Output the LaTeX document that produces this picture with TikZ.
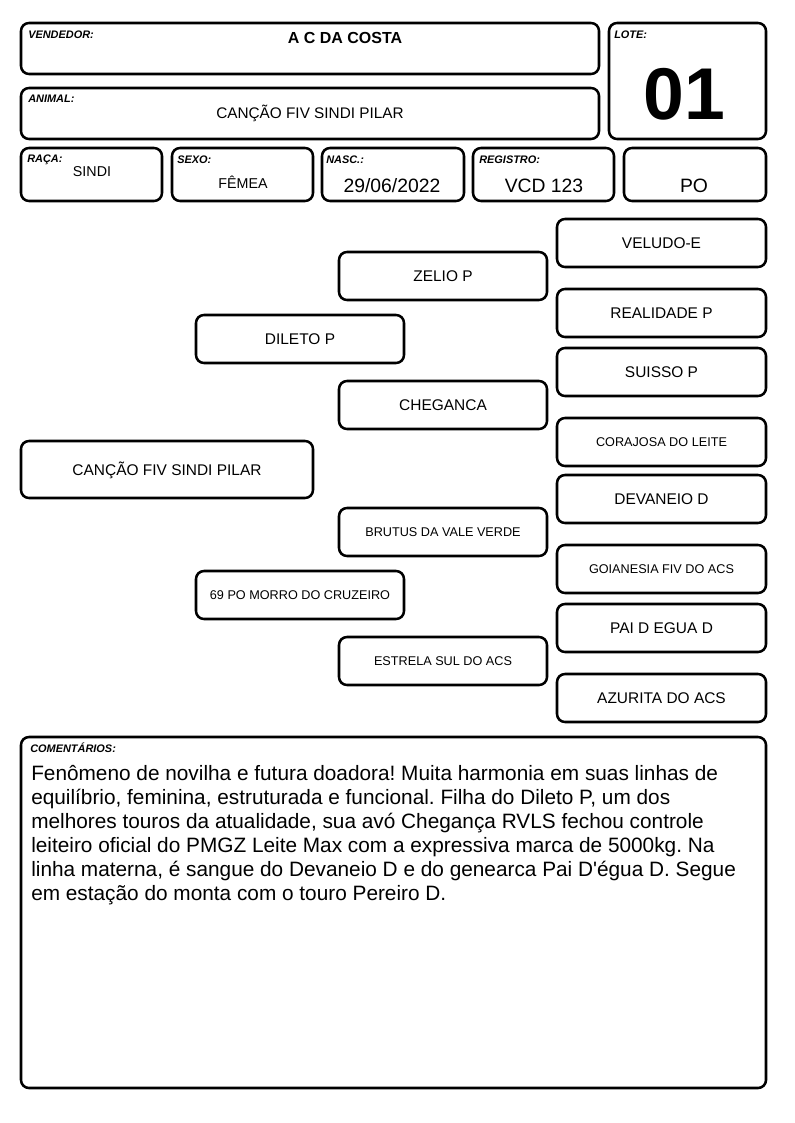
\documentclass[tikz,border=0pt]{standalone}
\usepackage{fontspec}
\setmainfont{Liberation Sans}[Ligatures=TeXOff]
\usetikzlibrary{fit}
\frenchspacing
\begin{document}
\begin{tikzpicture}[x=0.75pt,y=-0.75pt,
  box/.style={draw, line width=1.9pt, rounded corners=6pt, inner sep=0pt},
  lbl/.style={anchor=base west, inner sep=0pt, font=\fontsize{8.2}{10}\selectfont\bfseries\itshape},
  val/.style={anchor=base, inner sep=0pt, font=\fontsize{11.5}{14}\selectfont},
  valbig/.style={anchor=base, inner sep=0pt, font=\fontsize{14.5}{17}\selectfont},
  ped/.style={inner sep=0pt, text height=8.3pt, text depth=0pt, font=\fontsize{11.6}{14}\selectfont},
  peds/.style={inner sep=0pt, text height=6.8pt, text depth=0pt, font=\fontsize{9.5}{11}\selectfont}]
\useasboundingbox[fill=white] (0,0) rectangle (794,1123);
% header boxes
\node[box, fit={(21,23) (599,74)}] (vend) {};
\node[box, fit={(609,23) (766,139)}] (lote) {};
\node[box, fit={(21,88) (599,139)}] (animal) {};
\node[box, fit={(21,148) (162,201)}] (raca) {};
\node[box, fit={(172,148) (313,201)}] (sexo) {};
\node[box, fit={(322,148) (464,201)}] (nasc) {};
\node[box, fit={(473,148) (614,201)}] (reg) {};
\node[box, fit={(624,148) (766,201)}] (po) {};
% header labels
\node[lbl] (lvend) at (28,39) {VENDEDOR:};
\node[lbl] (llote) at (614,39) {LOTE:};
\node[lbl] (lanimal) at (28,103) {ANIMAL:};
\node[lbl] (lraca) at (27,163) {RAÇA:};
\node[lbl] (lsexo) at (177,164) {SEXO:};
\node[lbl] (lnasc) at (326,164) {NASC.:};
\node[lbl] (lreg) at (479,164) {REGISTRO:};
% header values
\node[anchor=base, inner sep=0pt, font=\fontsize{12}{14}\selectfont\bfseries] (tvend) at (345,44) {A C DA COSTA};
\node[anchor=base, inner sep=0pt, font=\fontsize{55}{60}\selectfont\bfseries] (tlote) at (684,120) {01};
\node[val] (tanimal) at (310,119) {CANÇÃO FIV SINDI PILAR};
\node[anchor=base, inner sep=0pt, font=\fontsize{10.7}{13}\selectfont] (traca) at (92,177) {SINDI};
\node[anchor=base, inner sep=0pt, font=\fontsize{10.7}{13}\selectfont] (tsexo) at (243,189) {FÊMEA};
\node[valbig] (tnasc) at (392,193) {29/06/2022};
\node[valbig] (treg) at (544,193) {VCD 123};
\node[valbig] (tpo) at (694,193) {PO};
% pedigree
\node[box, fit={(557,219) (766,267)}] (veludo) {};
\node[ped] (tveludo) at (veludo.center) {VELUDO-E};
\node[box, fit={(339,252) (547,300)}] (zelio) {};
\node[ped] (tzelio) at (zelio.center) {ZELIO P};
\node[box, fit={(557,289) (766,337)}] (realidade) {};
\node[ped] (trealidade) at (realidade.center) {REALIDADE P};
\node[box, fit={(196,315) (404,363)}] (dileto) {};
\node[ped] (tdileto) at (dileto.center) {DILETO P};
\node[box, fit={(557,348) (766,396)}] (suisso) {};
\node[ped] (tsuisso) at (suisso.center) {SUISSO P};
\node[box, fit={(339,381) (547,429)}] (cheganca) {};
\node[ped] (tcheganca) at (cheganca.center) {CHEGANCA};
\node[box, fit={(557,418) (766,466)}] (corajosa) {};
\node[peds] (tcorajosa) at (corajosa.center) {CORAJOSA DO LEITE};
\node[box, fit={(21,441) (313,498)}] (cancao) {};
\node[ped] (tcancao) at (cancao.center) {CANÇÃO FIV SINDI PILAR};
\node[box, fit={(557,475) (766,523)}] (devaneio) {};
\node[ped] (tdevaneio) at (devaneio.center) {DEVANEIO D};
\node[box, fit={(339,508) (547,556)}] (brutus) {};
\node[peds] (tbrutus) at (brutus.center) {BRUTUS DA VALE VERDE};
\node[box, fit={(557,545) (766,593)}] (goianesia) {};
\node[peds] (tgoianesia) at (goianesia.center) {GOIANESIA FIV DO ACS};
\node[box, fit={(196,571) (404,619)}] (morro) {};
\node[peds] (tmorro) at (morro.center) {69 PO MORRO DO CRUZEIRO};
\node[box, fit={(557,604) (766,652)}] (paidegua) {};
\node[ped] (tpaidegua) at (paidegua.center) {PAI D EGUA D};
\node[box, fit={(339,637) (547,685)}] (estrela) {};
\node[peds] (testrela) at (estrela.center) {ESTRELA SUL DO ACS};
\node[box, fit={(557,674) (766,722)}] (azurita) {};
\node[ped] (tazurita) at (azurita.center) {AZURITA DO ACS};
% comments
\node[box, fit={(21,737) (766,1088)}] (coment) {};
\node[lbl] (lcoment) at (30,752) {COMENTÁRIOS:};
\node[anchor=north west, inner sep=0pt, align=left, font=\fontsize{15.6}{18}\selectfont] (tcoment) at (31,765) {Fenômeno de novilha e futura doadora! Muita harmonia em suas linhas de\\
equilíbrio, feminina, estruturada e funcional. Filha do Dileto P, um dos\\
melhores touros da atualidade, sua avó Chegança RVLS fechou controle\\
leiteiro oficial do PMGZ Leite Max com a expressiva marca de 5000kg. Na\\
linha materna, é sangue do Devaneio D e do genearca Pai D'égua D. Segue\\
em estação do monta com o touro Pereiro D.};
\end{tikzpicture}
\end{document}
